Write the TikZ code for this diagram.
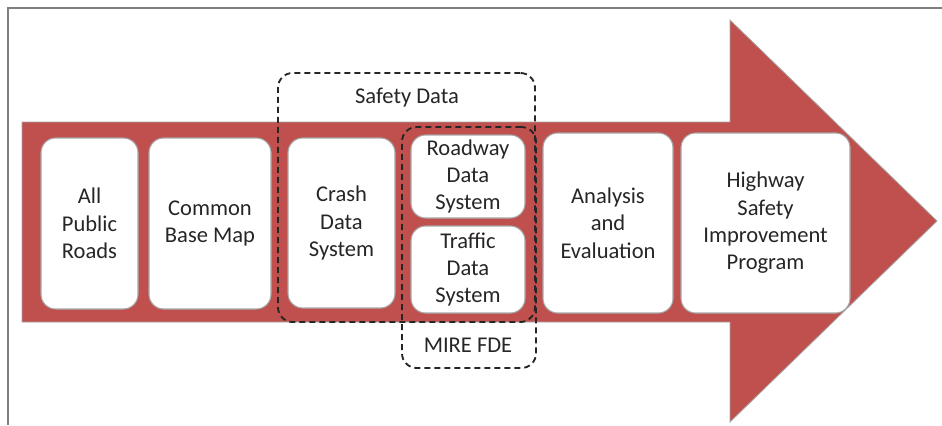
\documentclass[tikz,border=0pt]{standalone}
\usepackage{fontspec}
\setmainfont{Carlito}
\definecolor{arrowred}{HTML}{C0504D}
\definecolor{edgegray}{HTML}{A6A6A6}
\definecolor{framegray}{HTML}{7F7F7F}
\definecolor{txt}{HTML}{262626}
\begin{document}
\begin{tikzpicture}[x=0.75pt,y=-0.75pt,
  stagebox/.style={draw=edgegray, line width=0.8pt, fill=white, rounded corners=11pt,
    align=center, text=txt, inner sep=0pt,
    font=\fontsize{16.9pt}{20.5pt}\selectfont},
  groupbox/.style={draw=black!85, line width=1.4pt, dash pattern=on 4.5pt off 3pt,
    rounded corners=11pt, inner sep=0pt},
  grouplabel/.style={text=txt, font=\fontsize{16.9pt}{20.5pt}\selectfont, inner sep=0pt}]
\useasboundingbox (0,0) rectangle (942,425);
\fill[white] (0,0) rectangle (942,425);
% frame
\draw[framegray, line width=1.5pt] (8,425) -- (8,8) -- (942,8);
% big arrow
\draw[fill=arrowred, draw=edgegray, line width=0.6pt]
  (22,122) -- (730,122) -- (730,20) -- (937,221) -- (730,422) -- (730,322) -- (22,322) -- cycle;
% stage boxes
\node[stagebox, minimum width=72.75pt, minimum height=128.25pt] (roads) at (89.5,223.5) {All\\Public\\Roads};
\node[stagebox, minimum width=91.5pt, minimum height=128.25pt] (map) at (210,223.5) {Common\\Base Map};
\node[stagebox, minimum width=80.25pt, minimum height=127.5pt] (crash) at (341.5,223) {Crash\\Data\\System};
\node[stagebox, minimum width=85.5pt, minimum height=62.25pt] (roadway) at (468,176.5) {Roadway\\Data\\System};
\node[stagebox, minimum width=85.5pt, minimum height=65.25pt] (traffic) at (468,269.5) {Traffic\\Data\\System};
\node[stagebox, minimum width=97.5pt, minimum height=135pt] (analysis) at (608,223) {Analysis\\and\\Evaluation};
\node[stagebox, minimum width=126.75pt, minimum height=135pt] (hsip) at (765.5,223) {Highway\\Safety\\Improvement\\Program};
% dashed groups
\node[groupbox, minimum width=192.75pt, minimum height=186.75pt] (safety) at (406.5,197.5) {};
\node[grouplabel] (safetylabel) at (407,98) {Safety Data};
\node[groupbox, minimum width=100.5pt, minimum height=180.75pt] (mire) at (469,247.5) {};
\node[grouplabel] (mirelabel) at (468,345) {MIRE FDE};
\end{tikzpicture}
\end{document}
